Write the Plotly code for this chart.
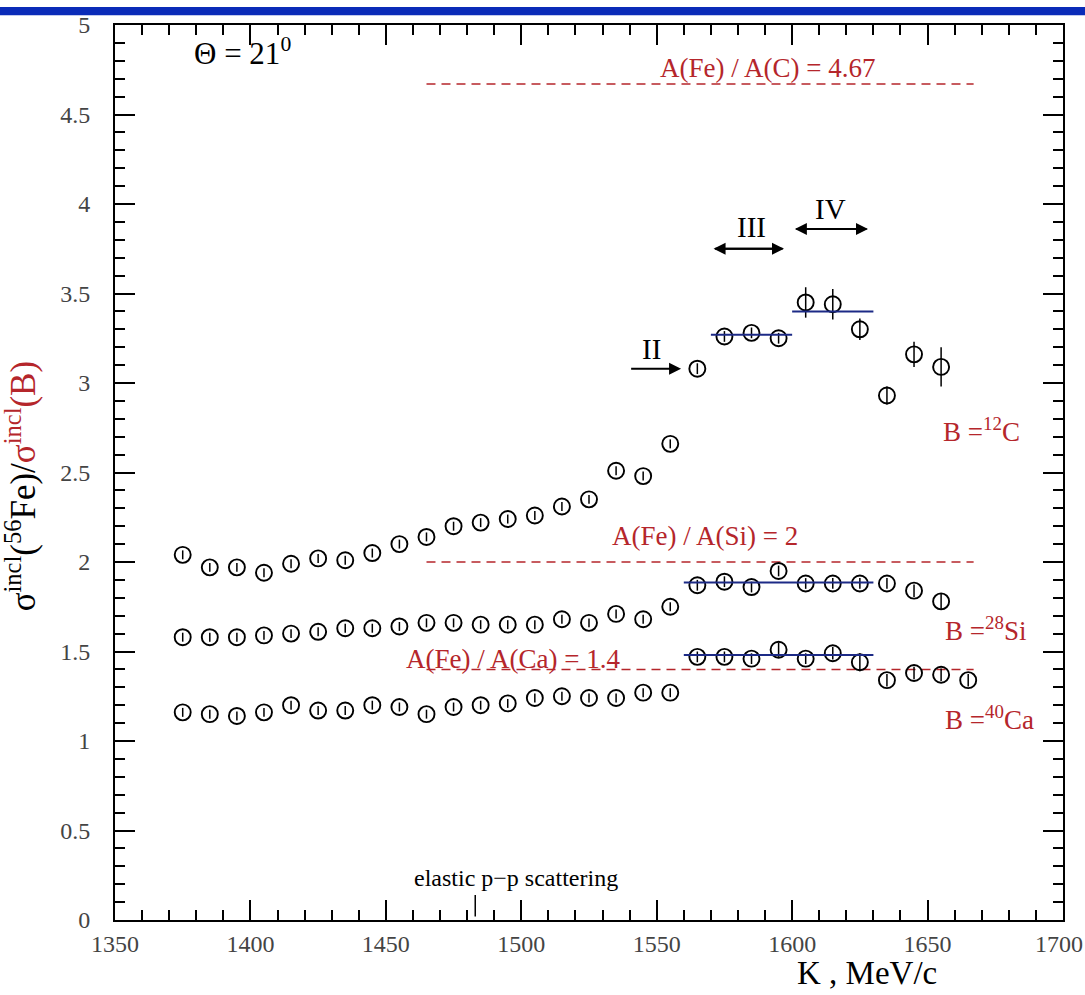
import plotly.graph_objects as go

# ---------------- data ----------------
K_C = [1375, 1385, 1395, 1405, 1415, 1425, 1435, 1445, 1455, 1465, 1475, 1485, 1495, 1505,
       1515, 1525, 1535, 1545, 1555, 1565, 1575, 1585, 1595, 1605, 1615, 1625, 1635, 1645, 1655]
R_C = [2.04, 1.97, 1.97, 1.94, 1.99, 2.02, 2.01, 2.05, 2.10, 2.14, 2.20, 2.22, 2.24, 2.26,
       2.31, 2.35, 2.51, 2.48, 2.66, 3.08, 3.26, 3.28, 3.25, 3.45, 3.44, 3.30, 2.93, 3.16, 3.09]
E_C = [0.025] * 19 + [0.03, 0.03, 0.03, 0.03, 0.085, 0.085, 0.06, 0.05, 0.07, 0.11]

K_Si = K_C
R_Si = [1.58, 1.58, 1.58, 1.59, 1.60, 1.61, 1.63, 1.63, 1.64, 1.66, 1.66, 1.65, 1.65, 1.65,
        1.68, 1.66, 1.71, 1.68, 1.75, 1.87, 1.89, 1.86, 1.95, 1.88, 1.88, 1.88, 1.88, 1.84, 1.78]
E_Si = [0.025] * 19 + [0.03, 0.03, 0.03, 0.03, 0.03, 0.03, 0.03, 0.03, 0.035, 0.045]

K_Ca = K_C + [1665]
R_Ca = [1.16, 1.15, 1.14, 1.16, 1.20, 1.17, 1.17, 1.20, 1.19, 1.15, 1.19, 1.20, 1.21, 1.24,
        1.25, 1.24, 1.24, 1.27, 1.27, 1.47, 1.47, 1.46, 1.51, 1.46, 1.49, 1.44, 1.34, 1.38, 1.37, 1.34]
E_Ca = [0.025] * 19 + [0.03, 0.03, 0.03, 0.04, 0.03, 0.035, 0.05, 0.035, 0.035, 0.035, 0.035]

# A-ratio reference levels (dashed) and their text
ratio_levels = [4.67, 2.0, 1.4]
ratio_x = [1465, 1667]
ratio_texts = ["A(Fe) / A(C) = 4.67", "A(Fe) / A(Si) = 2", "A(Fe) / A(Ca) = 1.4"]
ratio_text_xy = [(1591, 4.76), (1568, 2.145), (1497, 1.458)]

# fitted levels (blue)
fits = [((1570, 1600), 3.27), ((1600, 1630), 3.40), ((1560, 1630), 1.885), ((1560, 1630), 1.48)]

target_labels = ["B =<sup>12</sup>C", "B =<sup>28</sup>Si", "B =<sup>40</sup>Ca"]
target_xy = [(1670, 2.735), (1671.5, 1.625), (1673, 1.13)]

x_ticks = [1350, 1400, 1450, 1500, 1550, 1600, 1650, 1700]
y_ticks = [0, 0.5, 1, 1.5, 2, 2.5, 3, 3.5, 4, 4.5, 5]
y_ticklabels = ["0", "0.5", "1", "1.5", "2", "2.5", "3", "3.5", "4", "4.5", "5"]

RED = "#b5262b"
BLUE = "#1c2a86"
SERIF = "Liberation Serif, Times New Roman, serif"

fig = go.Figure()

# dashed reference lines
for lvl in ratio_levels:
    fig.add_trace(go.Scatter(x=ratio_x, y=[lvl, lvl], mode="lines",
                             line=dict(color=RED, width=1.5, dash="9px,6px"),
                             hoverinfo="skip", showlegend=False))

# data series
for kx, ry, ey in [(K_C, R_C, E_C), (K_Si, R_Si, E_Si), (K_Ca, R_Ca, E_Ca)]:
    fig.add_trace(go.Scatter(
        x=kx, y=ry, mode="markers",
        marker=dict(symbol="circle-open", size=16, color="black", line=dict(width=1.9, color="black")),
        error_y=dict(type="data", array=ey, visible=True, color="black", thickness=1.5, width=0),
        showlegend=False))

# blue fitted levels
for (x0, x1), lvl in fits:
    fig.add_trace(go.Scatter(x=[x0, x1], y=[lvl, lvl], mode="lines",
                             line=dict(color=BLUE, width=2), hoverinfo="skip", showlegend=False))

# elastic p-p marker line
fig.add_trace(go.Scatter(x=[1483, 1483], y=[0.02, 0.14], mode="lines",
                         line=dict(color="black", width=1.5), hoverinfo="skip", showlegend=False))

C = dict(xanchor="center", yanchor="middle", showarrow=False)
ann = []
for t, (x, y) in zip(ratio_texts, ratio_text_xy):
    ann.append(dict(x=x, y=y, text=t, font=dict(family=SERIF, size=27, color=RED), **C))
for t, (x, y) in zip(target_labels, target_xy):
    ann.append(dict(x=x, y=y, text=t, font=dict(family=SERIF, size=27, color=RED), **C))

ann.append(dict(x=1397, y=4.85, text="Θ = 21<sup>0</sup>",
                font=dict(family=SERIF, size=31, color="black"), **C))
ann.append(dict(x=1498, y=0.233, text="elastic p−p scattering",
                font=dict(family=SERIF, size=24, color="black"), **C))

# roman numerals
for t, x, y in [("II", 1548, 3.19), ("III", 1585, 3.87), ("IV", 1614, 3.97)]:
    ann.append(dict(x=x, y=y, text=t, font=dict(family=SERIF, size=29, color="black"), **C))

# arrows
arrow_style = dict(showarrow=True, arrowhead=2, arrowsize=1.2, arrowwidth=2, arrowcolor="black",
                   axref="x", ayref="y", text="", startstandoff=0, standoff=0)
ann.append(dict(x=1559, y=3.08, ax=1540, ay=3.08, **arrow_style))
for (xa, xb), y in [((1571, 1597), 3.75), ((1601, 1628), 3.86)]:
    ann.append(dict(x=xa, y=y, ax=xb, ay=y, **arrow_style))
    ann.append(dict(x=xb, y=y, ax=xa, ay=y, **arrow_style))

# last x tick label sits at the page edge (clipped in the original): right-anchored so it stays on the page
ann.append(dict(xref="paper", yref="paper", x=1.0232, y=-0.0265, xanchor="right", yanchor="middle",
                showarrow=False, text=str(x_ticks[-1]), font=dict(family=SERIF, size=24, color="#444")))

# axis titles
ann.append(dict(xref="paper", yref="paper", x=0.793, y=-0.0595, text="K , MeV/c",
                font=dict(family=SERIF, size=33, color="black"), **C))
ann.append(dict(xref="paper", yref="paper", x=-0.0992, y=0.4845, textangle=-90,
                text='σ<sup>incl</sup>(<sup>56</sup>Fe)/<span style="color:' + RED + '">σ<sup>incl</sup>(B)</span>',
                font=dict(family=SERIF, size=35, color="black"), **C))

axis_common = dict(showline=True, linecolor="black", linewidth=2, mirror="ticks",
                   ticks="inside", ticklen=20, tickwidth=2, tickcolor="black",
                   showgrid=False, zeroline=False,
                   tickfont=dict(family=SERIF, size=24, color="#444"))

fig.update_layout(
    width=1085, height=995,
    margin=dict(l=115, r=22, t=18, b=75),
    paper_bgcolor="white", plot_bgcolor="white",
    annotations=ann,
    xaxis=dict(range=[1350, 1700], tickvals=x_ticks,
               ticktext=[str(v) for v in x_ticks[:-1]] + [""],
               minor=dict(dtick=10, ticks="inside", ticklen=10, tickwidth=1.5, tickcolor="black"),
               ticklabelstandoff=1, **axis_common),
    yaxis=dict(range=[0, 5], tickvals=y_ticks, ticktext=y_ticklabels,
               minor=dict(dtick=0.1, ticks="inside", ticklen=10, tickwidth=1.5, tickcolor="black"),
               ticklabelstandoff=18, **axis_common),
    shapes=[dict(type="rect", xref="paper", yref="paper", x0=-0.1213, x1=1.0232, y0=1.011, y1=1.02,
                 fillcolor="#0a2bb8", line=dict(width=0), layer="above")],
)

fig.write_html("out.html", config={"displayModeBar": False},
               post_script="document.body.style.margin='0px';document.body.style.overflow='hidden';")
